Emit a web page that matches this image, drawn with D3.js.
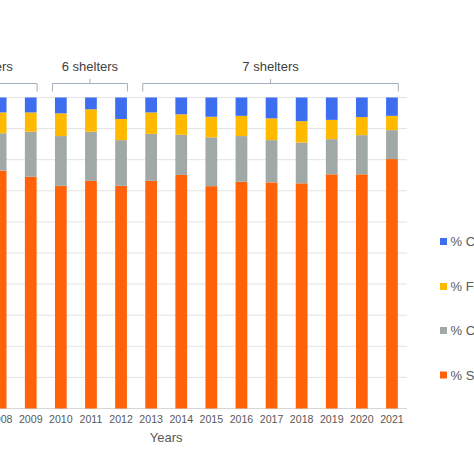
<!DOCTYPE html>
<html>
<head>
<meta charset="utf-8">
<script src="https://cdn.jsdelivr.net/npm/d3@7"></script>
<style>
  html, body { margin: 0; padding: 0; background: #fff; overflow: hidden; }
  svg { display: block; font-family: "Liberation Sans", Arial, sans-serif; }
</style>
</head>
<body>
<svg id="chart" width="474" height="474"></svg>
<script>
// ---- data ----
const years = ["2006","2007","2008","2009","2010","2011","2012","2013","2014","2015","2016","2017","2018","2019","2020","2021"];
const seriesNames = ["% Surrendered", "% Captured", "% Found", "% Confiscated"]; // bottom -> top
const seriesColors = ["#FF6208", "#A1A9A7", "#FFBA00", "#3D6EF0"];
const pctS = [75.0, 76.0, 76.5, 74.5, 71.6, 73.2, 71.6, 73.2, 75.1, 71.5, 72.9, 72.7, 72.4, 75.3, 75.3, 80.2];
const pctC2 = [12.5, 12.0, 12.0, 14.5, 16.0, 15.8, 14.7, 15.1, 12.9, 15.7, 14.7, 13.6, 13.1, 11.3, 12.6, 9.3];
const pctF = [7.0, 6.8, 6.7, 6.2, 7.3, 7.2, 6.8, 6.9, 6.6, 6.6, 6.5, 7.0, 6.9, 6.2, 5.8, 4.6];
const pctC1 = [5.5, 5.2, 4.8, 4.8, 5.1, 3.8, 6.9, 4.8, 5.4, 6.2, 5.9, 6.7, 7.6, 7.2, 6.3, 5.9];
const groups = [
  {label: "5 shelters", from: "2006", to: "2009"},
  {label: "6 shelters", from: "2010", to: "2012"},
  {label: "7 shelters", from: "2013", to: "2021"}
];
const yTicks = [0,10,20,30,40,50,60,70,80,90,100];
const xTitle = "Years";

// ---- layout ----
const svg = d3.select("#chart");
const plot = {left: -74.6, right: 407, top: 97.5, bottom: 408.5};

const x = d3.scaleBand().domain(years).range([plot.left, plot.right])
  .paddingInner(0.61).paddingOuter(0.305);
const y = d3.scaleLinear().domain([0, 100]).range([plot.bottom, plot.top]);

// gridlines
svg.append("g").selectAll("line").data(yTicks).join("line")
  .attr("x1", plot.left).attr("x2", plot.right)
  .attr("y1", d => y(d)).attr("y2", d => y(d))
  .attr("stroke", d => d === 0 ? "#d6d6d6" : "#e3e3e3").attr("stroke-width", 1);

// stacked data
const rows = years.map((yr, i) => ({year: yr, s0: pctS[i], s1: pctC2[i], s2: pctF[i], s3: pctC1[i]}));
const stack = d3.stack().keys(["s0","s1","s2","s3"]);
const stacked = stack(rows);

svg.append("g").selectAll("g").data(stacked).join("g")
  .attr("fill", (d, i) => seriesColors[i])
  .selectAll("rect").data(d => d).join("rect")
  .attr("x", d => x(d.data.year))
  .attr("width", x.bandwidth())
  .attr("y", d => y(d[1]))
  .attr("height", d => y(d[0]) - y(d[1]));

// x axis labels
const xAxis = d3.axisBottom(x).tickSize(0).tickPadding(7);
const gx = svg.append("g").attr("transform", `translate(0,${plot.bottom})`).call(xAxis);
gx.select(".domain").remove();
gx.selectAll("text").attr("fill", "#595959").style("font-size", "10.6px")
  .style("font-family", "'Liberation Sans', Arial, sans-serif");

// x title
svg.append("text").attr("x", (plot.left + plot.right) / 2).attr("y", 441.5)
  .attr("text-anchor", "middle").attr("fill", "#595959").style("font-size", "13px")
  .text(xTitle);

// group brackets
const bracketY = 83.5;
const bg = svg.append("g");
groups.forEach(g => {
  const x1 = x(g.from) - 2.5;
  const x2 = x(g.to) + x.bandwidth() + 0.5;
  const cx = (x1 + x2) / 2;
  bg.append("path")
    .attr("d", `M${x1},${bracketY + 8}V${bracketY}H${x2}V${bracketY + 8}M${cx},${bracketY}V${bracketY - 4.5}`)
    .attr("fill", "none").attr("stroke", "#a3aebf").attr("stroke-width", 1);
  bg.append("text").attr("x", cx).attr("y", 70.5).attr("text-anchor", "middle")
    .attr("fill", "#404040").style("font-size", "13px").text(g.label);
});

// legend (top -> bottom: last series first)
const legendY = [241.5, 286.5, 330.5, 375];
const legendOrder = [3, 2, 1, 0];
const lg = svg.append("g");
legendOrder.forEach((si, k) => {
  lg.append("rect").attr("x", 440).attr("y", legendY[k] - 3.5).attr("width", 7).attr("height", 7)
    .attr("fill", seriesColors[si]);
  lg.append("text").attr("x", 450.5).attr("y", legendY[k] + 4.7)
    .attr("fill", "#595959").style("font-size", "13px").text(seriesNames[si]);
});
</script>
</body>
</html>
